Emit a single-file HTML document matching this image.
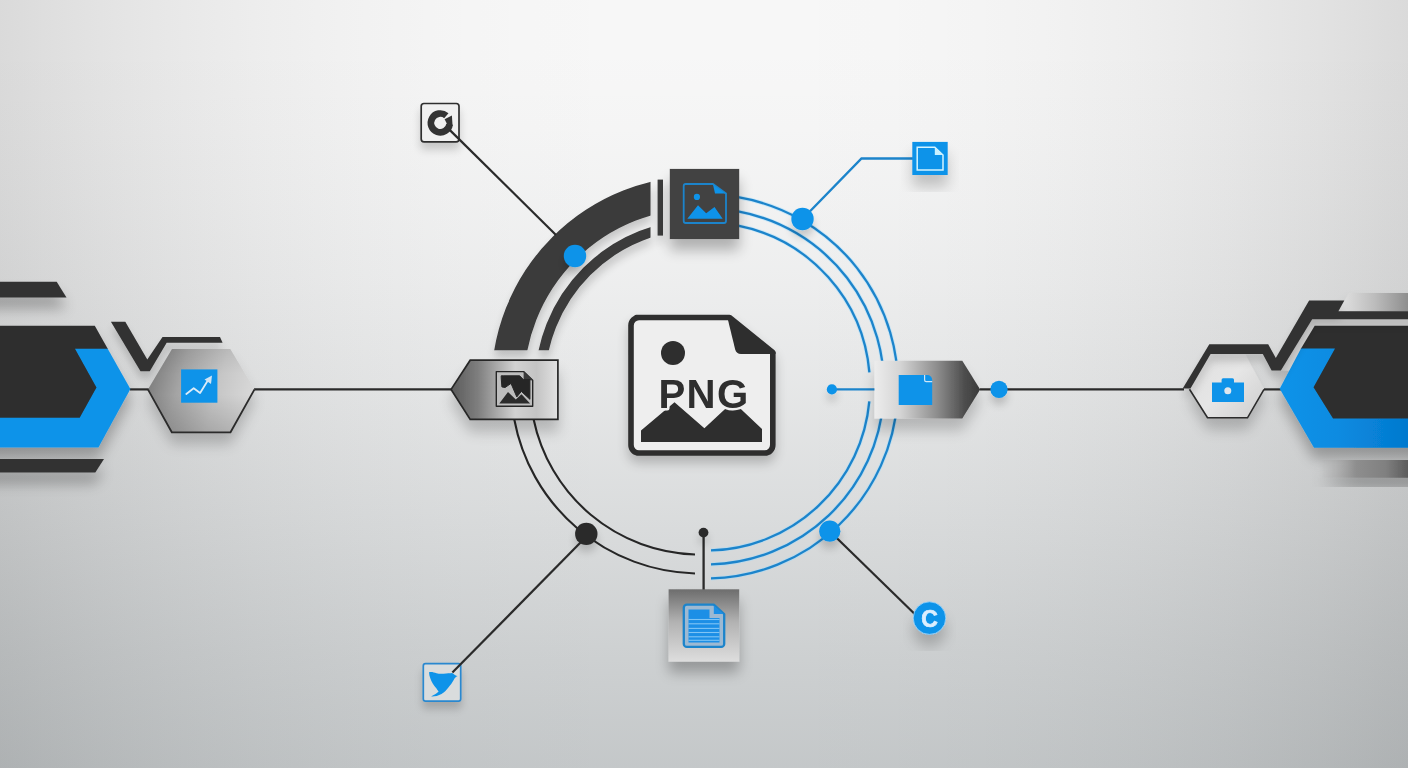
<!DOCTYPE html>
<html><head><meta charset="utf-8"><title>PNG network</title>
<style>html,body{margin:0;padding:0;background:#e6e6e6;}body{width:1408px;height:768px;overflow:hidden;}svg{display:block}</style>
</head><body>
<svg width="1408" height="768" viewBox="0 0 1408 768">
<defs>
<linearGradient id="bgh" x1="0" y1="0" x2="1408" y2="0" gradientUnits="userSpaceOnUse">
<stop offset="0.0000" stop-color="#101010" stop-opacity="0.1250"/>
<stop offset="0.0625" stop-color="#101010" stop-opacity="0.0907"/>
<stop offset="0.1250" stop-color="#101010" stop-opacity="0.0627"/>
<stop offset="0.1875" stop-color="#101010" stop-opacity="0.0405"/>
<stop offset="0.2500" stop-color="#101010" stop-opacity="0.0237"/>
<stop offset="0.3125" stop-color="#101010" stop-opacity="0.0119"/>
<stop offset="0.3750" stop-color="#101010" stop-opacity="0.0045"/>
<stop offset="0.4375" stop-color="#101010" stop-opacity="0.0009"/>
<stop offset="0.5000" stop-color="#101010" stop-opacity="0.0000"/>
<stop offset="0.5625" stop-color="#101010" stop-opacity="0.0009"/>
<stop offset="0.6250" stop-color="#101010" stop-opacity="0.0045"/>
<stop offset="0.6875" stop-color="#101010" stop-opacity="0.0119"/>
<stop offset="0.7500" stop-color="#101010" stop-opacity="0.0237"/>
<stop offset="0.8125" stop-color="#101010" stop-opacity="0.0405"/>
<stop offset="0.8750" stop-color="#101010" stop-opacity="0.0627"/>
<stop offset="0.9375" stop-color="#101010" stop-opacity="0.0907"/>
<stop offset="1.0000" stop-color="#101010" stop-opacity="0.1250"/>
</linearGradient>
<linearGradient id="bgv" x1="0" y1="0" x2="0" y2="768" gradientUnits="userSpaceOnUse">
<stop offset="0.0000" stop-color="#1e2d33" stop-opacity="0.0"/>
<stop offset="0.0781" stop-color="#1e2d33" stop-opacity="0.002"/>
<stop offset="0.1693" stop-color="#1e2d33" stop-opacity="0.01"/>
<stop offset="0.2604" stop-color="#1e2d33" stop-opacity="0.024"/>
<stop offset="0.3646" stop-color="#1e2d33" stop-opacity="0.044"/>
<stop offset="0.5000" stop-color="#1e2d33" stop-opacity="0.078"/>
<stop offset="0.6380" stop-color="#1e2d33" stop-opacity="0.122"/>
<stop offset="0.7292" stop-color="#1e2d33" stop-opacity="0.151"/>
<stop offset="0.8464" stop-color="#1e2d33" stop-opacity="0.19"/>
<stop offset="0.9635" stop-color="#1e2d33" stop-opacity="0.224"/>
<stop offset="1.0000" stop-color="#1e2d33" stop-opacity="0.235"/>
</linearGradient>
<filter id="sh" x="-30%" y="-30%" width="160%" height="180%">
<feGaussianBlur in="SourceAlpha" stdDeviation="7"/><feOffset dx="0" dy="12"/>
<feComponentTransfer><feFuncA type="linear" slope="0.2"/></feComponentTransfer>
<feMerge><feMergeNode/><feMergeNode in="SourceGraphic"/></feMerge>
</filter>
<filter id="shs" x="-30%" y="-30%" width="160%" height="180%">
<feGaussianBlur in="SourceAlpha" stdDeviation="4"/><feOffset dx="0" dy="7"/>
<feComponentTransfer><feFuncA type="linear" slope="0.18"/></feComponentTransfer>
<feMerge><feMergeNode/><feMergeNode in="SourceGraphic"/></feMerge>
</filter>
<filter id="shb" x="-20%" y="-30%" width="140%" height="180%">
<feGaussianBlur in="SourceAlpha" stdDeviation="7"/><feOffset dx="0" dy="11"/>
<feComponentTransfer><feFuncA type="linear" slope="0.27"/></feComponentTransfer>
<feMerge><feMergeNode/><feMergeNode in="SourceGraphic"/></feMerge>
</filter>
<filter id="shc" x="-20%" y="-20%" width="140%" height="160%">
<feGaussianBlur in="SourceAlpha" stdDeviation="6"/><feOffset dx="0" dy="7"/>
<feComponentTransfer><feFuncA type="linear" slope="0.22"/></feComponentTransfer>
<feMerge><feMergeNode/><feMergeNode in="SourceGraphic"/></feMerge>
</filter>
<filter id="blur3"><feGaussianBlur stdDeviation="3"/></filter>
<linearGradient id="pentL" x1="451" y1="0" x2="558" y2="0" gradientUnits="userSpaceOnUse">
<stop offset="0" stop-color="#5a5a5a"/><stop offset="0.25" stop-color="#7e7e7e"/><stop offset="0.6" stop-color="#d2d2d2"/><stop offset="0.8" stop-color="#c4c4c4"/><stop offset="1" stop-color="#e2e2e2"/>
</linearGradient>
<linearGradient id="pentR" x1="874" y1="0" x2="980" y2="0" gradientUnits="userSpaceOnUse">
<stop offset="0" stop-color="#ededed"/><stop offset="0.25" stop-color="#d4d4d4"/><stop offset="0.6" stop-color="#8c8c8c"/><stop offset="0.85" stop-color="#4e4e4e"/><stop offset="1" stop-color="#3a3a3a"/>
</linearGradient>
<linearGradient id="tileB" x1="0" y1="589" x2="0" y2="662" gradientUnits="userSpaceOnUse">
<stop offset="0" stop-color="#6c6c6c"/><stop offset="0.45" stop-color="#b2b2b2"/><stop offset="1" stop-color="#dedede"/>
</linearGradient>
<linearGradient id="hexL" x1="148" y1="372" x2="254" y2="402" gradientUnits="userSpaceOnUse">
<stop offset="0" stop-color="#7a7a7a"/><stop offset="0.3" stop-color="#a4a4a4"/><stop offset="0.65" stop-color="#c6c6c6"/><stop offset="1" stop-color="#dadada"/>
</linearGradient>
<linearGradient id="hexLv" x1="0" y1="349" x2="0" y2="432" gradientUnits="userSpaceOnUse">
<stop offset="0" stop-color="#000" stop-opacity="0.06"/><stop offset="0.3" stop-color="#000" stop-opacity="0"/><stop offset="0.55" stop-color="#000" stop-opacity="0"/><stop offset="1" stop-color="#000" stop-opacity="0.16"/>
</linearGradient>
<linearGradient id="hexR" x1="1190" y1="354" x2="1260" y2="418" gradientUnits="userSpaceOnUse">
<stop offset="0" stop-color="#dedede"/><stop offset="0.5" stop-color="#e6e6e6"/><stop offset="1" stop-color="#cfcfcf"/>
</linearGradient>
<linearGradient id="barTR" x1="1340" y1="0" x2="1408" y2="0" gradientUnits="userSpaceOnUse">
<stop offset="0" stop-color="#e2e2e2"/><stop offset="0.5" stop-color="#bdbdbd"/><stop offset="1" stop-color="#8e8e8e"/>
</linearGradient>
<linearGradient id="barBR" x1="1318" y1="0" x2="1408" y2="0" gradientUnits="userSpaceOnUse">
<stop offset="0" stop-color="#a8a8a8" stop-opacity="0"/><stop offset="0.2" stop-color="#a4a4a4" stop-opacity="0.55"/><stop offset="0.42" stop-color="#8e8e8e" stop-opacity="1"/><stop offset="0.75" stop-color="#808080"/><stop offset="1" stop-color="#5c5c5c"/>
</linearGradient>
<linearGradient id="blueR" x1="1280" y1="0" x2="1408" y2="0" gradientUnits="userSpaceOnUse">
<stop offset="0" stop-color="#0e93e9"/><stop offset="0.45" stop-color="#0a8be1"/><stop offset="1" stop-color="#0479ce"/>
</linearGradient>
<clipPath id="clipTL"><rect x="0" y="0" width="650.5" height="350.2"/></clipPath>
</defs>
<rect width="1408" height="768" fill="#f7f7f7"/>
<rect width="1408" height="768" fill="url(#bgh)"/>
<rect width="1408" height="768" fill="url(#bgv)"/>

<g filter="url(#shs)"><g clip-path="url(#clipTL)">
<circle cx="700" cy="384.5" r="192.3" fill="none" stroke="#3a3a3a" stroke-width="32.6"/>
<circle cx="700" cy="384.5" r="160" fill="none" stroke="#3a3a3a" stroke-width="10"/>
</g>
<rect x="657.6" y="179.6" width="5.4" height="56" fill="#3a3a3a"/></g>
<path d="M695.00,554.43 A170,170 0 0 1 533.54,419.00" fill="none" stroke="#262626" stroke-width="2.1"/>
<path d="M695.00,573.43 A189,189 0 0 1 514.18,419.00" fill="none" stroke="#262626" stroke-width="2.1"/>
<path d="M738.00,225.65 A164,164 0 0 1 869.39,372.40" fill="none" stroke="#9bdcff" stroke-opacity="0.45" stroke-width="4"/>
<path d="M738.00,225.65 A164,164 0 0 1 869.39,372.40" fill="none" stroke="#1c84cb" stroke-width="2.3"/>
<path d="M869.32,401.40 A164,164 0 0 1 711.00,550.42" fill="none" stroke="#9bdcff" stroke-opacity="0.45" stroke-width="4"/>
<path d="M869.32,401.40 A164,164 0 0 1 711.00,550.42" fill="none" stroke="#1c84cb" stroke-width="2.3"/>
<path d="M738.00,211.40 A178,178 0 0 1 711.00,564.43" fill="none" stroke="#9bdcff" stroke-opacity="0.45" stroke-width="4"/>
<path d="M738.00,211.40 A178,178 0 0 1 711.00,564.43" fill="none" stroke="#1c84cb" stroke-width="2.3"/>
<path d="M738.00,197.19 A192,192 0 0 1 711.00,578.43" fill="none" stroke="#9bdcff" stroke-opacity="0.45" stroke-width="4"/>
<path d="M738.00,197.19 A192,192 0 0 1 711.00,578.43" fill="none" stroke="#1c84cb" stroke-width="2.3"/>
<g fill="none" stroke="#2a2a2a" stroke-width="2.2">
<line x1="829.8" y1="531.2" x2="916" y2="615.3"/>
<line x1="703.6" y1="532.6" x2="703.6" y2="590" stroke-width="2.3"/>
<line x1="254" y1="389.4" x2="452" y2="389.4"/>
<line x1="130" y1="389.4" x2="149" y2="389.4"/>
<line x1="980" y1="389.4" x2="1184" y2="389.4"/>
<line x1="1264" y1="389.4" x2="1281" y2="389.4"/>
</g>
<polyline points="802.5,219 861.5,158.5 913,158.5" fill="none" stroke="#1c84cb" stroke-width="2.4"/>
<line x1="831.9" y1="389.4" x2="875" y2="389.4" stroke="#1c84cb" stroke-width="2.3"/>
<g filter="url(#shs)">
<circle cx="575" cy="256" r="11.2" fill="#0e93e9"/>
<circle cx="802.5" cy="219" r="11.2" fill="#0e93e9"/>
<circle cx="829.8" cy="531.2" r="10.6" fill="#0e93e9"/>
<circle cx="999" cy="389.4" r="8.6" fill="#0e93e9"/>
<circle cx="831.9" cy="389.4" r="5.1" fill="#0e93e9"/>
<circle cx="586.3" cy="533.9" r="11.2" fill="#2b2b2b"/>
<circle cx="703.5" cy="532.6" r="4.9" fill="#2b2b2b"/>
</g>
<g filter="url(#shb)"><rect x="669.8" y="168.9" width="69.4" height="70.2" fill="#434343"/></g>
<g fill="none" stroke="#1c84cb" stroke-width="1.8" stroke-linejoin="round">
<path d="M685.7,184 H713 L726,193.5 V221 a2,2 0 0 1 -2,2 H685.7 a2,2 0 0 1 -2,-2 V186 a2,2 0 0 1 2,-2 Z"/>
</g>
<path d="M713,184.5 L725.5,193.5 H715 Z" fill="#0e93e9"/>
<circle cx="696.9" cy="196.9" r="3.1" fill="#0e93e9"/>
<path d="M687.3,218.8 L698,205.2 L706.2,213.2 L714.5,207 L722.7,218.8 Z" fill="#0e93e9"/>

<g filter="url(#shb)"><rect x="668.6" y="589.3" width="70.6" height="72.3" fill="url(#tileB)"/></g>
<path d="M686.8,604.7 H713.8 L724.2,614 V643.9 a3,3 0 0 1 -3,3 H686.8 a3,3 0 0 1 -3,-3 V607.7 a3,3 0 0 1 3,-3 Z" fill="#9db9d2" stroke="#1c84cb" stroke-width="2.3" stroke-linejoin="round"/>
<path d="M688.5,609.5 H709.5 V618 H719.5 V642.5 H688.5 Z" fill="#1c8fe6"/>
<path d="M713.8,605.5 L723.5,614 H713.8 Z" fill="#1c8fe6"/>
<g stroke="#7fc4f5" stroke-width="1.1">
<line x1="688.5" y1="619.5" x2="719.5" y2="619.5"/><line x1="688.5" y1="623.8" x2="719.5" y2="623.8"/><line x1="688.5" y1="628.4" x2="719.5" y2="628.4"/><line x1="688.5" y1="632.5" x2="719.5" y2="632.5"/><line x1="688.5" y1="636.8" x2="719.5" y2="636.8"/><line x1="688.5" y1="640.3" x2="719.5" y2="640.3"/>
</g>

<g filter="url(#sh)"><path d="M451.1,389.4 L470.2,360.2 H557.9 V419.4 H470.2 Z" fill="url(#pentL)" stroke="#262626" stroke-width="1.7" stroke-linejoin="miter"/></g>
<path d="M496.3,371.6 H523.6 L532.7,380.2 V406.2 H496.3 Z" fill="#bdbdbd" stroke="#262626" stroke-width="1.4" stroke-linejoin="round"/>
<path d="M523.6,371.6 V380.2 H532.7 Z" fill="#3a3a3a"/>
<path d="M501.2,377.8 L501.2,375.8 L503.2,375.8 L519.7,375.8 L523.3,379.5 L529.9,379.5 L529.9,399.3 L521.4,391.4 L516.8,396.9 L511.0,383.4 L505.1,387.5 L501.9,386.9 Z" fill="#262626" stroke="#262626" stroke-width="1" stroke-linejoin="round"/>
<path d="M499.3,403.4 L508.0,392.1 L515.8,399.6 L521.5,394.2 L530.1,403.4 Z" fill="#2b2b2b"/>

<g filter="url(#sh)"><path d="M874.5,360.8 H962.3 L980.2,389.4 L962.3,418.4 H874.5 Z" fill="url(#pentR)"/></g>
<path d="M898.7,375 H927.2 a5,5 0 0 1 5,5 V405 H898.7 Z" fill="#0e93e9"/>
<path d="M924.6,375 V380 a1.6,1.6 0 0 0 1.6,1.6 H932.2" fill="none" stroke="#cfe6f7" stroke-width="1.2"/>

<g filter="url(#shs)"><rect x="421.2" y="103.5" width="37.8" height="38.3" rx="2.8" fill="#f0f0f0" stroke="#2f2f2f" stroke-width="1.7"/></g>
<path d="M449.61,124.21 A9.4,9.4 0 1 1 446.34,115.70" fill="none" stroke="#333" stroke-width="6.7"/>
<path d="M444.6,119.2 L451.9,115.6 L452.6,126 L447,124 Z" fill="#333"/>
<line x1="449.9" y1="130.1" x2="556" y2="235" stroke="#2a2a2a" stroke-width="2.2"/>

<g filter="url(#sh)"><rect x="912.3" y="141.9" width="35.4" height="33.1" fill="#0e93e9"/></g>
<path d="M917.2,147.2 H934.8 L943,155 V170 H917.2 Z" fill="none" stroke="#d4f4ff" stroke-width="1.5"/>
<path d="M934.8,147.2 L943,155 H934.8 Z" fill="#c9f1ff"/>

<g filter="url(#shs)"><rect x="423.3" y="663.7" width="37.4" height="37.4" rx="2.2" fill="#d9dcdd" stroke="#2a88cf" stroke-width="1.7"/></g>
<path d="M429,672.2 C431.5,671.5 434,672.4 436.5,673.2 C439,674 441.5,673.9 443.6,673.7 C447,673.4 450,673 452.2,672.9 C454,674.5 456,675.5 457.6,676.1 C455.5,677 454.5,678.5 453.7,680 C452,683 450.5,685 448.6,687.2 C446.5,690 444,692.5 441.5,694 C438,696 434,696.6 431.1,696.4 C434,695 436.5,693.5 438.6,691.5 C437.8,690.5 437,689.5 436.5,688.6 C433.5,685.5 431.5,682 430.4,678.6 C429.6,676.5 429.1,674.5 429,672.2 Z" fill="#0e93e9"/>
<line x1="452.4" y1="672.6" x2="581" y2="542" stroke="#2a2a2a" stroke-width="2.2"/>

<g filter="url(#sh)"><circle cx="929.5" cy="618.1" r="16.3" fill="#0e93e9" stroke="#9fd6fb" stroke-width="0.8"/></g>
<text x="929.6" y="626.9" opacity="0.995" font-family="'Liberation Sans', sans-serif" font-weight="bold" font-size="23" fill="#dcefff" text-anchor="middle" stroke="#dcefff" stroke-width="0.7" stroke-linejoin="round">C</text>

<g filter="url(#shc)">
<path d="M636.5,317.5 H729.5 L772.8,352.5 V445 a8,8 0 0 1 -8,8 H639 a8,8 0 0 1 -8,-8 V325.5 a8,8 0 0 1 8,-8 Z" fill="#eeeeee" stroke="#2e2e2e" stroke-width="5.6" stroke-linejoin="round"/>
<path d="M729.5,315 L775.5,352 V354 H741 a6,6 0 0 1 -5.8,-4.5 L727.5,318 Z" fill="#2e2e2e"/>
<circle cx="673" cy="353" r="12" fill="#2e2e2e"/>
<path d="M641,442 V430.5 L674.5,402.3 L704.4,428.3 L731,403.5 L735,403.5 L762,429 V442 Z" fill="#2e2e2e"/>
</g>
<text x="704" y="408.3" opacity="0.995" letter-spacing="1.3" font-family="'Liberation Sans', sans-serif" font-weight="bold" font-size="40.2" fill="#2e2e2e" text-anchor="middle" stroke="#efefef" stroke-width="5" paint-order="stroke" stroke-linejoin="round">PNG</text>

<g filter="url(#shb)">
<path d="M-30,281.8 H56.7 L66.5,297.6 H-30 Z" fill="#333"/>
<path d="M-30,459 H104 L95.3,472.5 H-30 Z" fill="#333"/>
<path d="M-30,325.8 H94.8 L108,349.2 H76 L97.2,387.6 L80.2,418.3 H-30 Z" fill="#2f2f2f"/>
<path d="M75,348.7 H107.7 L130.4,389 L98.4,447.5 H-30 V417.8 H79.7 L96.5,387.6 Z" fill="#0e93e9"/>
</g>
<g filter="url(#shs)">
<path d="M110.9,321.8 H125.3 L147.3,359.4 L162.5,336.9 H220 L222.6,342.8 H166.7 L149.8,371.2 H140.5 Z" fill="#333"/>
</g>
<g filter="url(#sh)">
<path d="M147.9,389.4 L172,349 H230.3 L254.5,389.4 L230.5,432.3 H171.8 Z" fill="url(#hexL)"/>
</g>
<path d="M147.9,389.4 L172,349 H230.3 L254.5,389.4 L230.5,432.3 H171.8 Z" fill="url(#hexLv)"/>
<path d="M147.9,389.4 L171.8,432.3 H230.5 L254.5,389.4" fill="none" stroke="#2b2b2b" stroke-width="1.8"/>
<rect x="181.1" y="369.4" width="36.3" height="33.3" fill="#0e93e9"/>
<polyline points="186.3,394 193.7,388.2 200.1,393 207.5,381" fill="none" stroke="#dcecf8" stroke-width="1.8" stroke-linejoin="round" stroke-linecap="round"/>
<path d="M204.5,379.5 L212,375.5 L211,384 Z" fill="#cfe4f5"/>

<g filter="url(#shb)">
<path d="M1349,293 H1440 V311.3 H1338.4 Z" fill="url(#barTR)"/>
<path d="M1312.2,319.3 H1440 V326.5 H1315.5 L1290.5,370.6 H1280.9 Z" fill="#d6d6d6"/>
<path d="M1300.7,349.1 L1314.7,325.7 H1440 V418.9 H1332.6 L1312.8,387.3 L1334,349.1 Z" fill="#2f2f2f"/>
<path d="M1301,348.6 H1335 L1313.5,387.3 L1333,418.4 H1440 V447.8 H1314 L1279.7,388.8 Z" fill="url(#blueR)"/>
</g>
<g filter="url(#shb)"><rect x="1318" y="460" width="120" height="17.8" fill="url(#barBR)"/></g>
<g filter="url(#sh)">
<path d="M1189.5,389.3 L1209,354.5 H1245.5 L1264,389.3 L1247.5,417.8 H1207.5 Z" fill="url(#hexR)"/>
</g>
<g filter="url(#shs)">
<path d="M1182.7,388.6 L1209.3,344.3 H1268.2 L1275.8,357.9 L1309.1,300.6 H1344.3 L1338.4,311.3 H1440 V319.3 H1312.2 L1280.9,370.6 H1271.6 L1262.8,354 H1210.6 L1190.5,388.6 Z" fill="#333"/>
</g>
<path d="M1189.5,389.3 L1207.5,417.8 H1247.5 L1264,389.3" fill="none" stroke="#2b2b2b" stroke-width="1.6"/>
<path d="M1212,382.5 H1221.6 V379.7 a1.5,1.5 0 0 1 1.5,-1.5 H1232.5 a1.5,1.5 0 0 1 1.5,1.5 V382.5 H1244 V402 H1212 Z" fill="#0e93e9"/>
<circle cx="1227.8" cy="390.7" r="3.5" fill="#dfe7ee"/>

</svg>
</body></html>
